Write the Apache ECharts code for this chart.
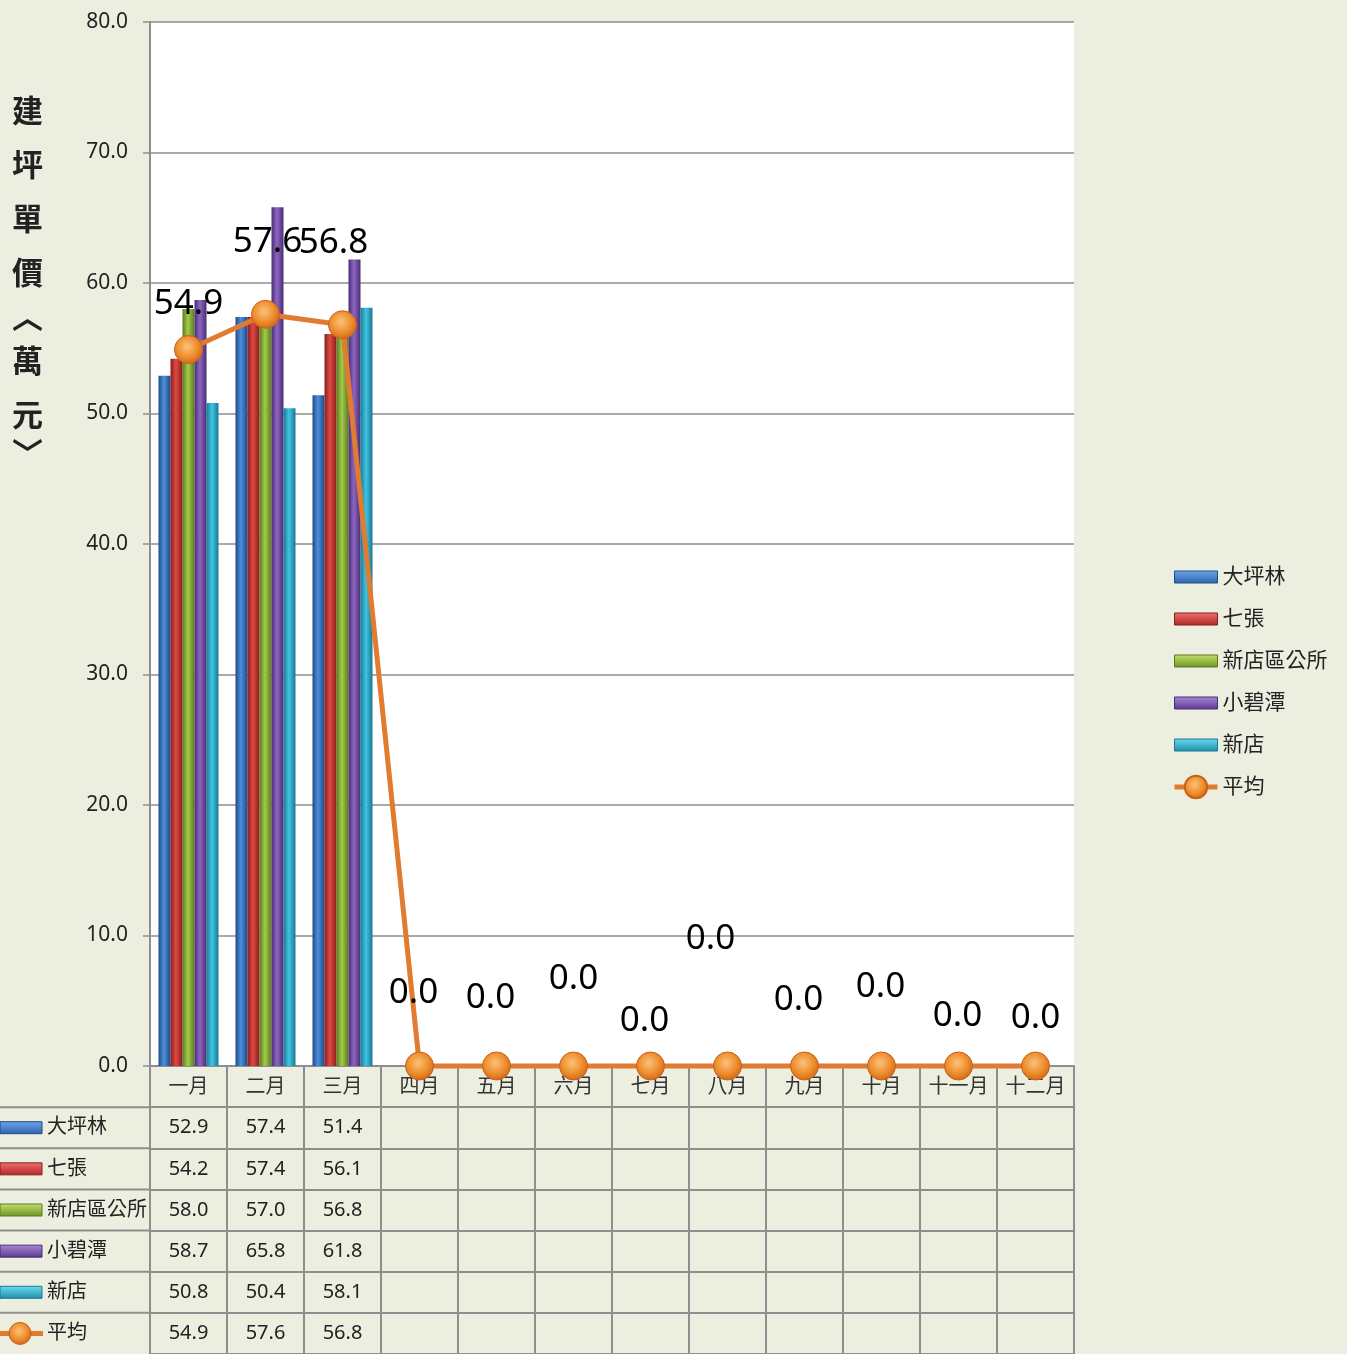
<!DOCTYPE html>
<html>
<head>
<meta charset="utf-8">
<script src="https://cdn.jsdelivr.net/npm/echarts@6/dist/echarts.min.js"></script>
<style>
html,body{margin:0;padding:0;background:#ECEFE0;}
#c{width:1347px;height:1354px;}
</style>
</head>
<body>
<div id="c"></div>
<script>
// ---- data ----
const months = ['一月','二月','三月','四月','五月','六月','七月','八月','九月','十月','十一月','十二月'];
const seriesNames = ['大坪林','七張','新店區公所','小碧潭','新店','平均'];
const sDaPingLin = [52.9, 57.4, 51.4, null, null, null, null, null, null, null, null, null];
const sQiZhang   = [54.2, 57.4, 56.1, null, null, null, null, null, null, null, null, null];
const sXinDianQu = [58.0, 57.0, 56.8, null, null, null, null, null, null, null, null, null];
const sXiaoBiTan = [58.7, 65.8, 61.8, null, null, null, null, null, null, null, null, null];
const sXinDian   = [50.8, 50.4, 58.1, null, null, null, null, null, null, null, null, null];
const sAvg       = [54.9, 57.6, 56.8, 0, 0, 0, 0, 0, 0, 0, 0, 0];
const yMin = 0, yMax = 80, yStep = 10;

// ---- styles ----
const FONT = "'Noto Sans', 'Noto Sans CJK TC', sans-serif";
const barColors = [
  ['#1E4A86', '#4D8FDC', '#1E4A86'],
  ['#8A1C1C', '#DE4A44', '#8A1C1C'],
  ['#5A7A1C', '#A2CC4C', '#5A7A1C'],
  ['#4A2C74', '#8E66C2', '#4A2C74'],
  ['#177A94', '#40C4E2', '#177A94']
];
const legendColors = [
  ['#6FA6EA', '#2C62AA'],
  ['#F07070', '#B02828'],
  ['#C4E06A', '#6E9428'],
  ['#A888D8', '#5A3A8A'],
  ['#6CDCF2', '#1E8EAA']
];
const avgLabelOffsets = [[0,-46],[2,-72],[-9,-82],[-6,-73],[-6,-68],[0,-87],[-6,-45],[-17,-127],[-6,-66],[-1,-79],[-1,-50],[0,-48]];
const gridLine = '#8E8E8E';

function hGrad(c) {
  return new echarts.graphic.LinearGradient(0, 0, 1, 0, [
    {offset: 0, color: c[0]}, {offset: 0.45, color: c[1]}, {offset: 1, color: c[2]}
  ]);
}
function vGrad(c) {
  return new echarts.graphic.LinearGradient(0, 0, 0, 1, [
    {offset: 0, color: c[0]}, {offset: 1, color: c[1]}
  ]);
}
const markerColor = new echarts.graphic.RadialGradient(0.45, 0.4, 0.6, [
  {offset: 0, color: '#FBC27A'}, {offset: 0.6, color: '#EE8F2E'}, {offset: 1, color: '#D2681A'}
]);

const barData = [sDaPingLin, sQiZhang, sXinDianQu, sXiaoBiTan, sXinDian];
const tableRows = [sDaPingLin, sQiZhang, sXinDianQu, sXiaoBiTan, sXinDian, sAvg];

const series = [];
barData.forEach((d, i) => {
  series.push({
    name: seriesNames[i], type: 'bar', xAxisIndex: 0, yAxisIndex: 0,
    data: d, barWidth: 12, barGap: '0%',
    itemStyle: {color: hGrad(barColors[i])}
  });
});
series.push({
  name: '平均', type: 'line', xAxisIndex: 0, yAxisIndex: 0, z: 5, clip: false,
  data: sAvg.map((v, i) => ({value: v, label: {offset: avgLabelOffsets[i]}})),
  symbol: 'circle', symbolSize: 28,
  lineStyle: {color: '#E07B30', width: 5},
  itemStyle: {color: markerColor, borderColor: '#C8621A', borderWidth: 1},
  label: {show: true, position: 'inside', fontSize: 35, color: '#000', fontFamily: FONT,
    formatter: p => Number(p.value).toFixed(1)}
});

// table values (only months that have data)
const tableCells = [];
tableRows.forEach((row, r) => {
  row.forEach((v, c) => {
    if (sDaPingLin[c] != null && v != null) tableCells.push([c, r + 1, v]);
  });
});
series.push({
  name: 'tableCells', type: 'custom', xAxisIndex: 1, yAxisIndex: 1,
  data: tableCells, silent: true,
  renderItem: function (params, api) {
    const p = api.coord([api.value(0), api.value(1)]);
    return {type: 'text', x: p[0], y: p[1], style: {
      text: Number(api.value(2)).toFixed(1), fill: '#222', font: '20px ' + FONT,
      align: 'center', verticalAlign: 'middle'}};
  }
});
// row labels with icons
series.push({
  name: 'tableRowLabels', type: 'custom', xAxisIndex: 1, yAxisIndex: 1,
  data: seriesNames.map((n, i) => [0, i + 1, i]), silent: true,
  renderItem: function (params, api) {
    const idx = api.value(2);
    const p = api.coord([0, api.value(1)]);
    const sz = api.size([1, 1]);
    const left = p[0] - sz[0] / 2;
    const top = p[1] - sz[1] / 2;
    const ch = [
      {type: 'line', shape: {x1: 0, y1: top, x2: left, y2: top}, style: {stroke: gridLine, lineWidth: 2}},
      {type: 'text', x: 47, y: p[1], style: {text: seriesNames[idx], fill: '#222', font: '20px ' + FONT,
        align: 'left', verticalAlign: 'middle'}}
    ];
    if (idx < 5) {
      ch.push({type: 'rect', shape: {x: 0, y: p[1] - 6, width: 42, height: 12},
        style: {fill: vGrad(legendColors[idx]), stroke: barColors[idx][0], lineWidth: 1}});
    } else {
      ch.push({type: 'line', shape: {x1: 0, y1: p[1], x2: 43, y2: p[1]}, style: {stroke: '#E07B30', lineWidth: 5}});
      ch.push({type: 'circle', shape: {cx: 20, cy: p[1], r: 11}, style: {fill: markerColor, stroke: '#C8621A', lineWidth: 1}});
    }
    return {type: 'group', children: ch};
  }
});

const option = {
  backgroundColor: '#ECEFE0',
  animation: false,
  textStyle: {fontFamily: FONT},
  graphic: [{
    type: 'text', left: 12, top: 95,
    style: {
      text: ['{a|建}','{a|坪}','{a|單}','{a|價}','{b|︿}','{a|萬}','{a|元}','{c|﹀}'].join('\n'),
      rich: {
        a: {fontSize: 31, fontWeight: 'bold', lineHeight: 54, fill: '#222', fontFamily: "'Noto Sans CJK TC'"},
        b: {fontSize: 31, fontWeight: 'bold', lineHeight: 34, fill: '#222', fontFamily: "'Noto Sans CJK TC'"},
        c: {fontSize: 31, fontWeight: 'bold', lineHeight: 24, fill: '#222', fontFamily: "'Noto Sans CJK TC'"}
      }
    }
  }],
  legend: {
    orient: 'vertical', left: 1167, top: 558,
    itemWidth: 43, itemHeight: 28, itemGap: 14, symbolKeepAspect: true,
    textStyle: {fontSize: 21, lineHeight: 28, color: '#222', fontFamily: FONT},
    data: seriesNames.map((n, i) => i < 5 ? {name: n, icon: 'path://M0,0 L43,0 L43,12 L0,12 Z',
      itemStyle: {color: vGrad(legendColors[i]), borderColor: barColors[i][0], borderWidth: 1}}
      : {name: n, lineStyle: {width: 5, color: '#E07B30'}})
  },
  grid: [
    {left: 150, right: 273, top: 22, bottom: 288, show: true, backgroundColor: '#FFFFFF', borderWidth: 0},
    {left: 150, right: 273, top: 1066, bottom: 0}
  ],
  xAxis: [
    {type: 'category', gridIndex: 0, data: months,
      axisLine: {show: true, lineStyle: {color: gridLine, width: 2}},
      axisTick: {show: false},
      axisLabel: {interval: 0, fontSize: 20, color: '#333', margin: 11, fontFamily: FONT}},
    {type: 'category', gridIndex: 1, data: months,
      axisLine: {show: false}, axisTick: {show: false}, axisLabel: {show: false},
      splitLine: {show: true, interval: 0, lineStyle: {color: gridLine, width: 2}}}
  ],
  yAxis: [
    {type: 'value', gridIndex: 0, min: yMin, max: yMax, interval: yStep,
      axisLine: {show: true, lineStyle: {color: gridLine, width: 2}},
      axisTick: {show: true, length: 7, lineStyle: {color: gridLine, width: 1.5}},
      axisLabel: {fontSize: 21, color: '#222', margin: 22, fontFamily: FONT, formatter: v => v.toFixed(1)},
      splitLine: {show: true, lineStyle: {color: gridLine, width: 1.5}}},
    {type: 'category', gridIndex: 1, inverse: true, data: ['', ...seriesNames],
      axisLine: {show: false}, axisTick: {show: false}, axisLabel: {show: false},
      splitLine: {show: true, interval: 0, lineStyle: {color: gridLine, width: 2}}}
  ],
  series: series
};

const chart = echarts.init(document.getElementById('c'), null, {renderer: 'canvas'});
chart.setOption(option);
</script>
</body>
</html>
